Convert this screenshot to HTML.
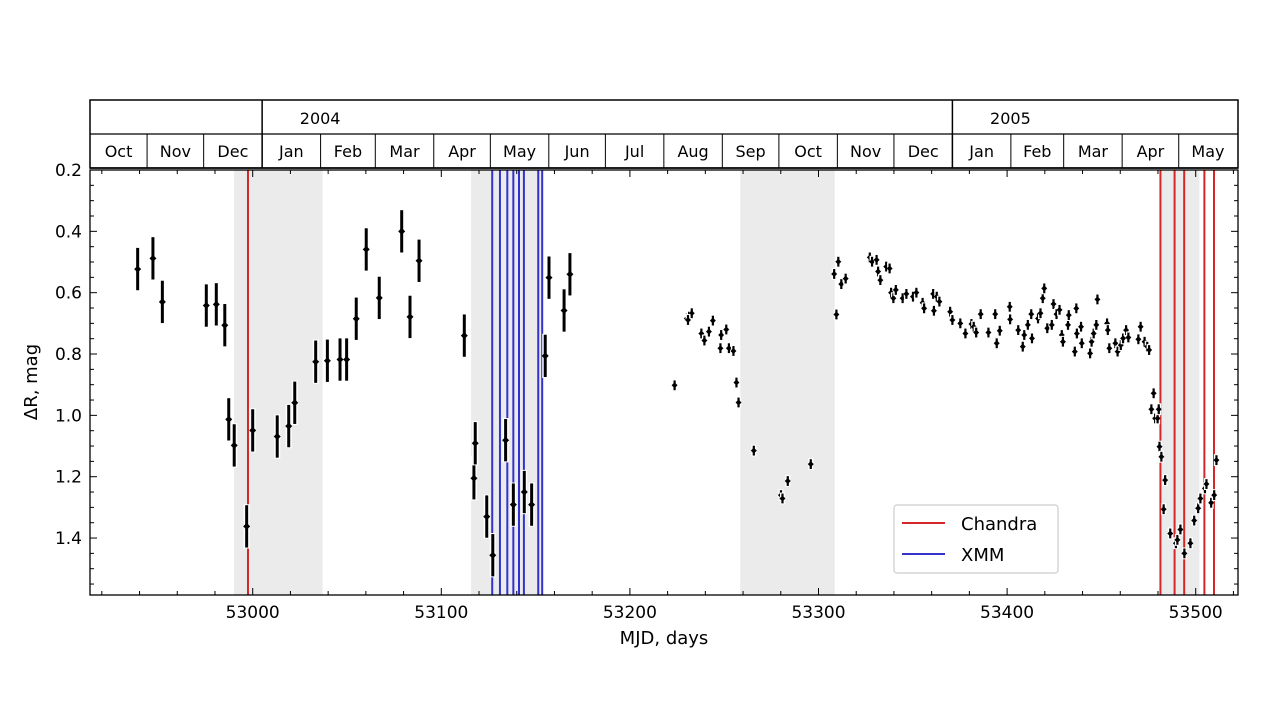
<!DOCTYPE html>
<html><head><meta charset="utf-8"><style>
html,body{margin:0;padding:0;background:#fff;}
svg{display:block;font-family:"DejaVu Sans","Liberation Sans",sans-serif;}
</style></head><body>
<svg id="chart" width="1280" height="721" viewBox="0 0 1280 721" xmlns="http://www.w3.org/2000/svg"></svg>
<script>
const months = ["Oct","Nov","Dec","Jan","Feb","Mar","Apr","May","Jun","Jul","Aug","Sep","Oct","Nov","Dec","Jan","Feb","Mar","Apr","May"];
const monthStarts = [52913,52944,52974,53005,53036,53065,53096,53126,53157,53187,53218,53249,53279,53310,53340,53371,53402,53430,53461,53491,53522];
const years = ["2004","2005"];
const yearStarts = [53005,53371];
const xTicks = [53000,53100,53200,53300,53400,53500];
const yTicks = [0.2,0.4,0.6,0.8,1.0,1.2,1.4];
const shadeStart = [52990.1,53115.8,53258.5,53481];
const shadeEnd = [53037.1,53153.9,53308.6,53502];
const chandra = [52997.5,53481.3,53488.8,53493.9,53504.6,53509.7];
const xmm = [53127.0,53131.1,53135.0,53138.2,53141.2,53143.8,53151.4,53153.5];
const mjdA = [52939.0,52947.1,52952.1,52975.4,52980.7,52985.2,52987.3,52990.2,52996.8,53000,53013,53019.1,53022.3,53033.4,53039.6,53046.3,53049.8,53054.9,53060.2,53067.1,53079,53083.4,53088.2,53112.2,53117.3,53118,53124.1,53127.3,53134.1,53138.2,53144,53147.9,53155.1,53157.1,53165.1,53168.2];
const magA = [0.523,0.488,0.630,0.642,0.638,0.706,1.013,1.098,1.362,1.049,1.069,1.035,0.959,0.825,0.822,0.818,0.818,0.685,0.459,0.617,0.400,0.679,0.496,0.740,1.205,1.091,1.330,1.456,1.081,1.291,1.250,1.291,0.806,0.551,0.658,0.540];
const errA = 0.069;
const mjdB = [53223.7,53230.2,53231.4,53232.8,53230.8,53237.9,53239.5,53241.9,53244.0,53248.0,53248.4,53251.1,53252.5,53254.9,53256.5,53257.6,53265.7,53280.1,53280.9,53283.7,53295.9,53308.3,53309.5,53310.5,53312.1,53314.4,53327.2,53328.4,53330.8,53331.6,53332.8,53335.9,53337.7,53338.5,53339.7,53341.0,53344.6,53346.6,53350.1,53351.9,53355.2,53356.0,53360.8,53361.2,53362.7,53364.1,53369.8,53371.0,53375.2,53377.9,53381.1,53382.3,53383.6,53386.0,53390.1,53393.7,53394.5,53396.1,53401.4,53401.6,53405.9,53408.3,53409.1,53411.0,53412.8,53413.2,53416.4,53417.7,53418.9,53419.7,53421.3,53423.7,53424.6,53426.2,53427.8,53429.0,53429.6,53432.3,53432.7,53435.9,53436.7,53437.0,53439.2,53439.6,53444.0,53444.8,53445.9,53447.3,53447.9,53453.0,53453.4,53454.2,53457.4,53458.6,53460.3,53461.5,53463.1,53464.3,53469.6,53470.8,53472.9,53474.3,53475.3,53477.7,53476.5,53478.5,53479.8,53480.4,53480.8,53481.8,53483.0,53483.8,53486.5,53489.5,53490.3,53491.9,53494.0,53497.2,53499.2,53501.3,53502.5,53504.9,53505.7,53508.2,53509.8,53511.0];
const magB = [0.902,0.684,0.678,0.667,0.689,0.733,0.756,0.727,0.691,0.781,0.738,0.720,0.781,0.790,0.893,0.958,1.115,1.260,1.271,1.214,1.159,0.539,0.671,0.499,0.572,0.554,0.485,0.499,0.493,0.531,0.559,0.515,0.521,0.600,0.618,0.591,0.618,0.604,0.613,0.600,0.633,0.651,0.604,0.659,0.613,0.629,0.662,0.689,0.700,0.733,0.702,0.711,0.730,0.670,0.730,0.670,0.765,0.724,0.646,0.687,0.722,0.776,0.738,0.705,0.670,0.749,0.684,0.667,0.618,0.586,0.716,0.705,0.637,0.670,0.656,0.738,0.760,0.705,0.673,0.792,0.651,0.733,0.711,0.765,0.798,0.760,0.733,0.705,0.622,0.700,0.722,0.781,0.765,0.792,0.771,0.749,0.722,0.746,0.752,0.711,0.760,0.776,0.787,0.928,0.980,1.010,1.010,0.980,1.102,1.135,1.306,1.211,1.385,1.417,1.406,1.372,1.450,1.417,1.343,1.303,1.271,1.238,1.224,1.285,1.260,1.146];
const errB = 0.016;

const L=90,R=1238,T=170,B=595;
const X = m => 252.7 + (m-53000)*1.886;
const Y = v => 170 + (v-0.2)*306.7;
const svg = document.getElementById('chart');
const NS='http://www.w3.org/2000/svg';
function mk(tag, attrs, parent){const e=document.createElementNS(NS,tag);for(const k in attrs)e.setAttribute(k,attrs[k]);(parent||svg).appendChild(e);return e;}

// shaded bands
for(let i=0;i<shadeStart.length;i++){
  const r=mk('rect',{x:X(shadeStart[i]),y:T,width:X(shadeEnd[i])-X(shadeStart[i]),height:B-T,fill:'#ebebeb'});
  
  
}
// observation lines
chandra.forEach(m=>{const l=mk('line',{x1:X(m),x2:X(m),y1:T,y2:B,stroke:'#d62728','stroke-width':2});
  
  });
xmm.forEach(m=>{const l=mk('line',{x1:X(m),x2:X(m),y1:T,y2:B,stroke:'#3333cc','stroke-width':2});
  
  });
// data points
function pts(mj,mg,err,big){
  for(let i=0;i<mj.length;i++){
    const g=mk('g',{});
    
    
    const x=X(mj[i]),y=Y(mg[i]),e=err*306.7;
    mk('line',{x1:x,x2:x,y1:y-e-1,y2:y+e+1,stroke:'#fff','stroke-width':big?6:5},g);
    mk('line',{x1:x,x2:x,y1:y-e,y2:y+e,stroke:'#000','stroke-width':big?3:2.2},g);
    const s=big?3.5:3;
    mk('path',{d:`M${x-s} ${y}L${x} ${y-s}L${x+s} ${y}L${x} ${y+s}Z`,fill:'#000'},g);
  }
}
pts(mjdA,magA,errA,true);
pts(mjdB,magB,errB,false);

// axes frame
const fr=mk('rect',{x:L,y:T,width:R-L,height:B-T,fill:'none',stroke:'#000','stroke-width':1.3});


// x ticks
for(let m=52920;m<=53520;m+=20){
  const x=X(m); if(x<L||x>R)continue;
  const maj=m%100===0, len=maj?7:4;
  mk('line',{x1:x,x2:x,y1:B,y2:B-len,stroke:'#000','stroke-width':1});
  mk('line',{x1:x,x2:x,y1:T,y2:T+len,stroke:'#000','stroke-width':1});
}
xTicks.forEach(m=>{const t=mk('text',{x:X(m),y:B+23,'font-size':17,'text-anchor':'middle'});t.textContent=m;
  
  });
for(let v=0.2;v<=1.6;v+=0.05){
  const y=Y(v); if(y>B+0.5)continue;
  const maj=Math.abs(v*5-Math.round(v*5))<1e-6, len=maj?7:4;
  mk('line',{x1:L,x2:L+len,y1:y,y2:y,stroke:'#000','stroke-width':1});
  mk('line',{x1:R,x2:R-len,y1:y,y2:y,stroke:'#000','stroke-width':1});
}
yTicks.forEach(v=>{const t=mk('text',{x:L-8,y:Y(v)+6,'font-size':17,'text-anchor':'end'});t.textContent=v.toFixed(1);
  
  });
const xt=mk('text',{x:664,y:644,'font-size':18,'text-anchor':'middle'});xt.textContent='MJD, days';


const yt=mk('text',{x:0,y:0,'font-size':18,'text-anchor':'middle',transform:'translate(37,382) rotate(-90)'});yt.textContent='ΔR, mag';



// header calendar
const hdr=mk('g',{});


mk('rect',{x:L,y:100,width:R-L,height:68,fill:'#fff',stroke:'#000','stroke-width':1.5},hdr);
mk('line',{x1:L,x2:R,y1:134,y2:134,stroke:'#000','stroke-width':1.3},hdr);
mk('line',{x1:L,x2:R,y1:168,y2:168,stroke:'#000','stroke-width':1.5},hdr);
yearStarts.forEach((m,i)=>{
  mk('line',{x1:X(m),x2:X(m),y1:100,y2:168,stroke:'#000','stroke-width':1.5},hdr);
  const t=mk('text',{x:X(m)+58,y:124,'font-size':16,'text-anchor':'middle'},hdr);t.textContent=years[i];
  
  
});
for(let i=0;i<months.length;i++){
  const x0=Math.max(L,X(monthStarts[i])), x1=Math.min(R,X(monthStarts[i+1]));
  if(i>0) mk('line',{x1:x0,x2:x0,y1:134,y2:168,stroke:'#000','stroke-width':1},hdr);
  const t=mk('text',{x:(x0+x1)/2,y:157,'font-size':16,'text-anchor':'middle'},hdr);t.textContent=months[i];
  
  
}

// legend
const lg=mk('g',{});


mk('rect',{x:894,y:505,width:164,height:68,rx:3,fill:'#fff',stroke:'#ccc','stroke-width':1.2},lg);
mk('line',{x1:902,x2:945,y1:523,y2:523,stroke:'#d62728','stroke-width':2},lg);
mk('line',{x1:902,x2:945,y1:554,y2:554,stroke:'#3333cc','stroke-width':2},lg);
const c=mk('text',{x:961,y:530,'font-size':18},lg);c.textContent='Chandra';


const xm=mk('text',{x:961,y:561,'font-size':18},lg);xm.textContent='XMM';


</script>
</body></html>
